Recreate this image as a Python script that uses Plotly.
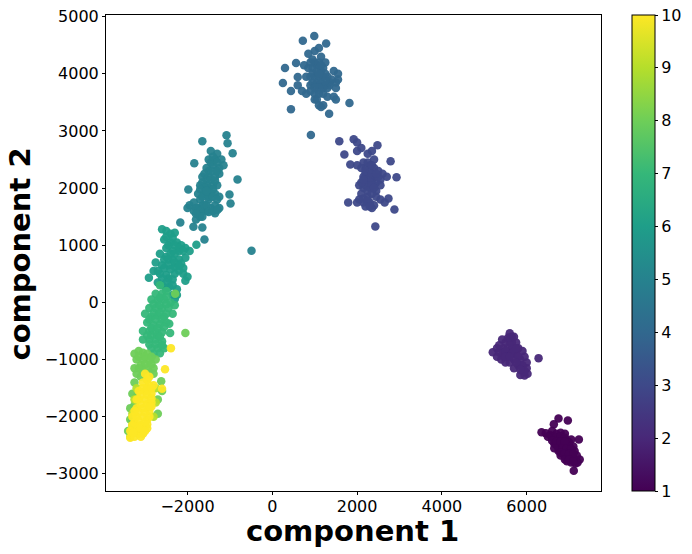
import plotly.graph_objects as go

# points, one group per colour value
c1_x = [6350, 6640, 6750, 6970, 6450, 6550, 6600, 6700, 6800, 6650, 6750, 6850, 6950, 7050, 7230, 6700, 6800, 6900, 7000, 7100, 6750, 6850, 6950, 7050, 7130, 6800, 6900, 7000, 7100, 7250, 7180, 6950, 7050, 7150, 7110, 6600, 6900, 6650, 7200, 6500, 6700, 6800, 6900, 7000, 6600, 6700, 6800, 6900, 6750, 6850, 6950, 7050, 6650, 6800, 6900, 7000, 7100, 6900, 7000, 7100]
c1_y = [-2270, -2130, -2030, -2065, -2290, -2320, -2250, -2300, -2280, -2400, -2400, -2380, -2420, -2400, -2400, -2500, -2500, -2500, -2500, -2520, -2600, -2600, -2600, -2620, -2600, -2680, -2700, -2700, -2720, -2750, -2680, -2780, -2800, -2820, -2945, -2350, -2300, -2470, -2800, -2350, -2360, -2340, -2370, -2450, -2420, -2440, -2440, -2440, -2550, -2550, -2550, -2560, -2550, -2630, -2640, -2650, -2650, -2750, -2750, -2780]

c2_x = [5200, 5300, 5300, 5420, 5450, 5450, 5500, 5550, 5600, 5600, 5650, 5650, 5700, 5750, 5750, 5800, 5800, 5850, 5900, 5950, 5850, 6000, 6000, 6020, 5500, 5560, 5400, 5900, 5950, 6280, 5700, 5600, 5350, 5450, 5550, 5500, 5650, 5550, 5650, 5700, 5600, 5700, 5800, 5850, 5900, 5750, 5950, 5850, 5500, 5600, 5350, 5750]
c2_y = [-870, -800, -950, -650, -800, -950, -1050, -900, -540, -700, -600, -800, -1000, -700, -900, -800, -1100, -1000, -1200, -1280, -1270, -1050, -1150, -1250, -700, -620, -1000, -850, -950, -975, -1150, -1050, -870, -870, -800, -850, -700, -950, -900, -850, -620, -600, -950, -1100, -1100, -1050, -1200, -1180, -950, -950, -750, -800]

c3_x = [1580, 1700, 1920, 2480, 2790, 2930, 2880, 2430, 1790, 2740, 1840, 2000, 2000, 2100, 2250, 2350, 2400, 2150, 2000, 2200, 2300, 2400, 2500, 2600, 2700, 2150, 2250, 2350, 2450, 2550, 2050, 2150, 2300, 2450, 2550, 2100, 2050, 2250, 2150, 2300, 2350, 2400, 2000, 2550, 2650, 2450, 2100, 2200, 2300, 2400, 2500, 2300, 2200, 2300, 2400, 2200, 2350, 2450, 2250, 2350, 2200, 2350, 2250, 2350, 2400, 2150, 2250, 2200, 2300, 2100, 2150]
c3_y = [2820, 2590, 2855, 2750, 2470, 2190, 1625, 1330, 1750, 1820, 2415, 2800, 2650, 2700, 2600, 2650, 2500, 2450, 2400, 2350, 2300, 2350, 2300, 2250, 2200, 2200, 2150, 2150, 2100, 2150, 2050, 2000, 2000, 1950, 2050, 1900, 1800, 1850, 1750, 1750, 1650, 1700, 1750, 1800, 1750, 1850, 2350, 2250, 2400, 2200, 2200, 2200, 2100, 2100, 2050, 2300, 2250, 2250, 2450, 2400, 2050, 2050, 1950, 1900, 2000, 1820, 1780, 1680, 1680, 2100, 2150]

c4_x = [990, 720, 1270, 300, 250, 440, 440, 910, 1340, 1820, 560, 600, 1000, 1100, 850, 950, 1150, 1250, 750, 850, 950, 1050, 1200, 1450, 1550, 800, 900, 1000, 1100, 1200, 1300, 1500, 1550, 900, 1000, 1100, 1250, 1350, 1500, 600, 700, 800, 1000, 1100, 1200, 1300, 1450, 1050, 1100, 1150, 1200, 1500, 950, 1050, 1150, 1050, 950, 1150, 1200, 1300, 1100, 1000, 1400, 1350, 1250, 1000, 1100, 1150, 900, 1250, 1100, 900, 1000]
c4_y = [4660, 4580, 4530, 4100, 3840, 3700, 3380, 2930, 3300, 3490, 4190, 3945, 4400, 4450, 4350, 4250, 4300, 4200, 4150, 4100, 4100, 4150, 4100, 4050, 4000, 3950, 3950, 3950, 3950, 3950, 3950, 3850, 3900, 3800, 3800, 3800, 3800, 3800, 3750, 3800, 3700, 3650, 3650, 3650, 3650, 3600, 3600, 3550, 3450, 3420, 3450, 3550, 4000, 4050, 4050, 3850, 3850, 3850, 3750, 3750, 3750, 3750, 3900, 3850, 3880, 4200, 4200, 4150, 4200, 4000, 4000, 3700, 3550]

c5_x = [-1080, -1650, -1055, -935, -1840, -820, -1010, -985, -1980, -490, -2170, -1860, -1650, -1600, -1450, -1300, -1500, -1350, -1200, -1550, -1400, -1250, -1150, -1650, -1500, -1350, -1250, -1700, -1550, -1400, -1300, -1750, -1600, -1450, -1350, -1250, -1700, -1500, -1350, -1950, -1850, -1750, -1650, -1550, -1850, -1450, -1250, -1750, -1350, -1800, -1650, -1450, -1400, -1300, -1500, -1400, -1300, -1600, -1550, -1450, -1350, -1650, -1500, -1600, -1400, -1700, -1650, -1500, -1550, -1400, -1300, -1800, -1700, -1600, -1550, -1700, -1800, -1500, -1650, -1400, -2000, -1290]
c5_y = [2925, 2820, 2785, 2610, 2435, 2150, 1890, 1730, 1975, 905, 1400, 1325, 1310, 1100, 2650, 2600, 2500, 2500, 2500, 2350, 2400, 2350, 2400, 2200, 2200, 2200, 2250, 2050, 2050, 2050, 2050, 1900, 1900, 1900, 1900, 1850, 1800, 1800, 1700, 1700, 1600, 1650, 1600, 1600, 1750, 1650, 1650, 1550, 1560, 1450, 1700, 2450, 2550, 2450, 2300, 2300, 2300, 2250, 2150, 2150, 2130, 2100, 2000, 2000, 1980, 1980, 1850, 1850, 1950, 1850, 1800, 1650, 1600, 1700, 1700, 1500, 1550, 1580, 1500, 1600, 1650, 1620]

c6_x = [-2600, -2500, -2400, -2300, -2550, -2400, -2250, -2150, -2050, -1950, -1790, -2500, -2350, -2200, -2650, -2500, -2350, -2200, -2050, -2750, -2600, -2450, -2300, -2100, -2800, -2650, -2500, -2300, -2100, -2000, -2050, -2910, -2700, -2600, -2500, -2250, -2250, -2350, -2300, -2430, -2500, -2350, -2450, -2300, -2200, -2100, -2400, -2300, -2550, -2450, -2300, -2150, -2550, -2400, -2200, -2450, -2350, -2600, -2500, -2350, -2700, -2200]
c6_y = [1280, 1250, 1200, 1220, 1100, 1050, 1050, 1000, 950, 900, 1010, 950, 900, 900, 850, 800, 750, 750, 780, 700, 650, 650, 620, 600, 550, 500, 480, 500, 500, 450, 380, 430, 350, 300, 250, 230, 130, 130, 60, 270, 1150, 1130, 1000, 1000, 950, 900, 850, 850, 750, 750, 700, 680, 600, 580, 560, 420, 400, 420, 350, 300, 550, 640]

c7_x = [-2650, -2750, -2600, -2500, -2850, -2700, -2550, -2400, -2300, -2900, -2750, -2600, -2450, -2350, -3000, -2850, -2700, -2550, -2430, -2950, -2800, -2650, -2500, -3050, -2900, -2750, -2600, -2410, -3050, -2900, -2750, -2600, -2850, -2700, -2650, -2550, -2800, -2650, -2500, -2800, -2650, -2500, -2800, -2650, -2500, -2900, -2750, -2600, -2850, -2700, -2550, -2850, -2700, -2950, -2900, -2750, -2650, -2600]
c7_y = [300, 150, 150, 200, 50, 30, 50, 0, -50, -100, -100, -100, -100, -200, -200, -250, -230, -250, -375, -350, -400, -380, -350, -500, -500, -520, -520, -535, -650, -650, -650, -680, -800, -800, -890, -800, -900, 80, 100, -30, -50, -30, -180, -180, -200, -300, -300, -300, -450, -450, -430, -580, -580, -580, -730, -730, -600, -750]

c8_x = [-2290, -2050, -3250, -3150, -3050, -2950, -3200, -3050, -2900, -2750, -3100, -2950, -2800, -3200, -3100, -2950, -2620, -3250, -3300, -3350, -2600, -3350, -3400, -2700, -2700, -3150, -3000, -2850, -3000, -2850, -2900, -3050, -3150, -3250, -2800, -3200, -3250, -3300]
c8_y = [150, -535, -900, -850, -880, -900, -1000, -1000, -1020, -1000, -1100, -1150, -1150, -1250, -1300, -1350, -1380, -1400, -1600, -1850, -1550, -2050, -2250, -1700, -1950, -950, -950, -950, -1080, -1080, -1230, -1200, -1150, -1150, -1250, -1650, -1800, -2050]

c9_x = [-3200, -3250, -3300, -3300, -2750, -2750, -2800, -3350]
c9_y = [-1500, -1700, -1950, -2150, -1500, -1750, -2000, -2350]

c10_x = [-2390, -2530, -2600, -3000, -2900, -3050, -2900, -2800, -3150, -3000, -2850, -3150, -3000, -2850, -3200, -3050, -2900, -3200, -3050, -2950, -3250, -3100, -2950, -3200, -3050, -3350, -3250, -3150, -2900, -2950, -3050, -2950, -2850, -3100, -2950, -2850, -3100, -2950, -2850, -3150, -3000, -2900, -3150, -3000, -3050, -3150, -2950, -3100, -3000, -3300, -3300, -3250, -3200, -3350, -3280]
c10_y = [-800, -1170, -1510, -1250, -1300, -1400, -1450, -1450, -1550, -1550, -1600, -1700, -1700, -1750, -1850, -1850, -1900, -2000, -2000, -2050, -2100, -2150, -2200, -2250, -2300, -2370, -2350, -2300, -2000, -1350, -1500, -1500, -1500, -1620, -1620, -1680, -1780, -1780, -1820, -1920, -1920, -1820, -2070, -2100, -2200, -2200, -2130, -2350, -2250, -2000, -2150, -1900, -1700, -2250, -2280]

groups = [(1, c1_x, c1_y), (2, c2_x, c2_y), (3, c3_x, c3_y), (4, c4_x, c4_y), (5, c5_x, c5_y),
          (6, c6_x, c6_y), (7, c7_x, c7_y), (8, c8_x, c8_y), (9, c9_x, c9_y), (10, c10_x, c10_y)]

xs, ys, cs = [], [], []
for value, gx, gy in groups:
    xs += gx
    ys += gy
    cs += [value] * len(gx)

FONT = "DejaVu Sans"

fig = go.Figure()
fig.add_trace(go.Scatter(
    x=xs, y=ys, mode="markers",
    marker=dict(
        size=8.5, color=cs, colorscale="Viridis", cmin=1, cmax=10, opacity=0.95,
        line=dict(width=0),
        colorbar=dict(
            x=1.0636, xanchor="left", xpad=0, y=0.5, yanchor="middle", len=1, ypad=0,
            thickness=23, outlinecolor="black", outlinewidth=1,
            tickmode="array", tickvals=list(range(1, 11)),
            ticks="outside", ticklen=3, tickcolor="black",
            tickfont=dict(family=FONT, size=16, color="black"),
        ),
    ),
))

axis_style = dict(
    showgrid=False, zeroline=False, showline=True, linecolor="black", linewidth=1,
    mirror=True, ticks="outside", ticklen=3, tickcolor="black", automargin=False,
    tickfont=dict(family=FONT, size=16, color="black"),
)

fig.update_layout(
    width=692, height=554, autosize=False,
    margin=dict(l=106, r=91, t=15, b=63, autoexpand=False),
    paper_bgcolor="white", plot_bgcolor="white",
    showlegend=False,
)
fig.update_xaxes(range=[-3922, 7752], tick0=0, dtick=2000, ticklabelstandoff=-2, **axis_style)
fig.update_yaxes(range=[-3300, 5029], tick0=0, dtick=1000, **axis_style)

fig.add_annotation(text="<b>component 1</b>", xref="paper", yref="paper", x=0.4970, y=-0.0840,
                   xanchor="center", yanchor="middle", showarrow=False,
                   font=dict(family=FONT, size=29, color="black"))
fig.add_annotation(text="<b>component 2</b>", xref="paper", yref="paper", x=-0.1737, y=0.4968,
                   xanchor="center", yanchor="middle", showarrow=False, textangle=-90,
                   font=dict(family=FONT, size=29, color="black"))

# the page's default body margin would push the figure off the window
fig.write_html("out.html", post_script="document.body.style.margin = '0';",
               config={"displayModeBar": False})
